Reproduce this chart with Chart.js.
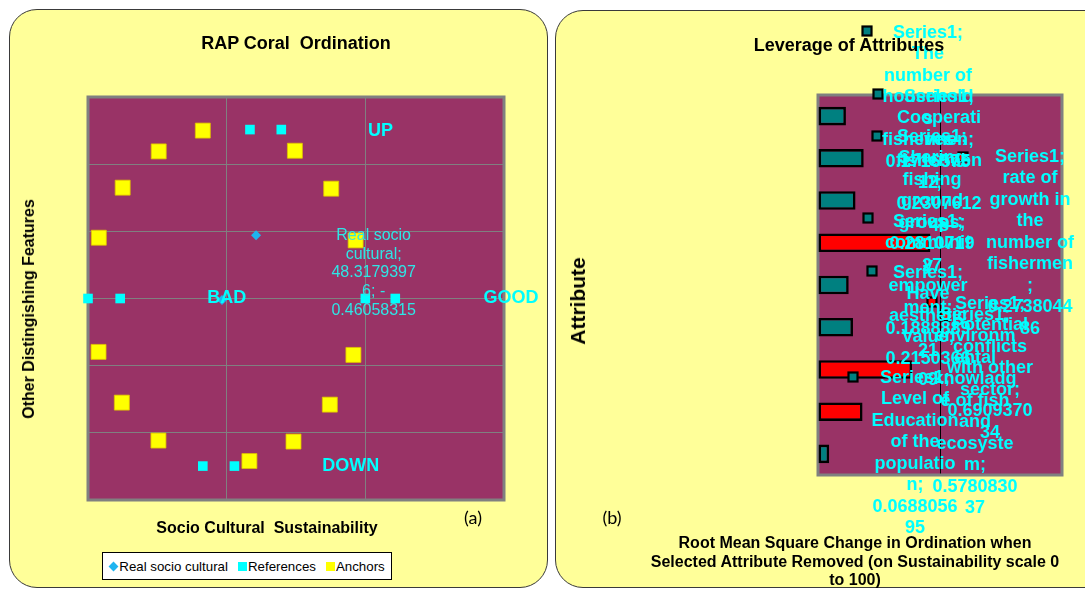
<!DOCTYPE html>
<html>
<head>
<meta charset="utf-8">
<title>RAP Coral Ordination and Leverage of Attributes</title>
<script src="https://cdn.jsdelivr.net/npm/chart.js@4.4.1/dist/chart.umd.min.js"></script>
<style>
  html, body { margin:0; padding:0; width:1085px; height:589px; overflow:hidden; background:#fff; }
  body { position:relative; font-family:'Liberation Sans', Arial, sans-serif; }
  .panel { position:absolute; background:#FFFF99; border:1px solid #3a3a3a; box-sizing:border-box; }
  #panelA { left:9px; top:9px; width:539px; height:579px; border-radius:28px; }
  #panelB { left:555px; top:10px; width:560px; height:578px; border-radius:28px; }
  canvas { position:absolute; top:0; }
  #chartA { left:0; }
  #chartB { left:550px; }
  .txt { position:absolute; transform:translate(-50%,-50%); white-space:nowrap; color:#000; }
  .bold { font-weight:bold; }
  .rot { transform:translate(-50%,-50%) rotate(-90deg); }
  .tag { font-family:Lato, 'Open Sans', sans-serif; font-size:18px; }
  #legendA { position:absolute; left:102px; top:552px; width:290px; height:28px; box-sizing:border-box;
             background:#fff; border:1px solid #000; display:flex; align-items:center; justify-content:center;
             font-size:13.3px; color:#000; }
  #legendA .li { display:inline-flex; align-items:center; margin:0 5px; }
  #legendA .mk { display:inline-block; width:9px; height:9px; margin-right:1px; }
  #legendA .mk.rectRot { width:7px; height:7px; transform:rotate(45deg); margin:0 2px 0 1px; }
</style>
</head>
<body>
<div class="panel" id="panelA"></div>
<div class="panel" id="panelB"></div>

<canvas id="chartA" width="550" height="589"></canvas>
<canvas id="chartB" width="535" height="589"></canvas>

<div class="txt bold" style="left:296px;top:43px;font-size:18px;">RAP Coral&nbsp; Ordination</div>
<div class="txt bold" style="left:267px;top:528px;font-size:16px;">Socio Cultural&nbsp; Sustainability</div>
<div class="txt bold rot" style="left:29px;top:309px;font-size:16px;">Other Distingishing Features</div>
<div class="txt tag" style="left:473px;top:517px;">(a)</div>
<div id="legendA"></div>

<div class="txt bold" style="left:849px;top:45px;font-size:18px;">Leverage of Attributes</div>
<div class="txt bold rot" style="left:578px;top:301px;font-size:21px;">Attribute</div>
<div class="txt bold" style="left:855px;top:562px;font-size:16px;line-height:18.5px;text-align:center;">Root Mean Square Change in Ordination when<br>Selected Attribute Removed (on Sustainability scale 0<br>to 100)</div>
<div class="txt tag" style="left:612px;top:517px;">(b)</div>

<script>
// ---------- ordination data (sustainability score, other distinguishing features) ----------
const realName = 'Real socio cultural';
const realX = [48.31793976, 60.6];
const realY = [-0.46058315, 18.8];

const refName = 'References';
const refX = [0, 11.6, 100, 110.8, 58.4, 69.7, 41.4, 52.8];
const refY = [0, 0, 0, 0, 50.3, 50.3, -49.9, -49.9];

const anchorName = 'Anchors';
const anchorX = [41.4, 25.5, 74.6, 12.5, 87.7, 3.9, 96.5, 3.8, 95.7, 12.2, 87.2, 25.4, 74.1, 58.2];
const anchorY = [50, 43.8, 44, 33, 32.7, 18.1, 17.3, -15.9, -16.8, -31, -31.6, -42.3, -42.6, -48.4];

// direction words shown inside the ordination plot
const compassWords = ['UP', 'BAD', 'GOOD', 'DOWN'];

// ---------- leverage data (top bar first) ----------
const seriesName = 'Series1';
const attributes = [
  'The number of households fishermen',
  'Sharing fishing ground groups',
  'Cooperatives fishermen',
  'Potential conflicts with other sector',
  'community empowerment',
  'Have aesthetic Value',
  'environmental knowladge of fish and ecosystem',
  'rate of growth in the number of fishermen',
  'Level of Education of the population'
];
const leverage = [0.171657512, 0.281071927, 0.230761248, 0.690937034, 0.188888921,
                  0.215036609, 0.578083037, 0.273804486, 0.068805695];

// ---------- styling / layout (not data) ----------
const PLOT_FILL = '#993366';
const GRID = '#808080';
const CYAN = '#00FFFF';
const TEAL = '#008080';
const RED = '#FF0000';
const highlighted = [false, false, false, true, false, false, true, true, false];

// where each direction word sits, in axis units
const compassAt = [[105.5, 50], [50, 0], [152.5, 0], [94.7, -50]];
// label of the real point: centre-x / first line, in axis units
const realLabelAt = [103, 18.8];

// leverage data labels: text centre (dx), first line (dy), key centre (kx, ky), wrap width (w),
// all in px from the plot's top-left corner
const labelLayout = [
  { dx: 110, dy: -62, kx: 49,  ky: -64, w: 93 },
  { dx: 114, dy: 42,  kx: 59,  ky: 41,  w: 90 },
  { dx: 121, dy: 2,   kx: 60,  ky: -1,  w: 89 },
  { dx: 172, dy: 209, kx: 114, ky: 207, w: 90 },
  { dx: 110, dy: 127, kx: 50,  ky: 123, w: 90 },
  { dx: 110, dy: 178, kx: 54,  ky: 176, w: 90 },
  { dx: 157, dy: 220, kx: 127, ky: 221, w: 88 },
  { dx: 212, dy: 62,  kx: 145, ky: 62,  w: 90 },
  { dx: 97,  dy: 283, kx: 35,  ky: 282, w: 89 }
];

// ---------- helpers ----------
// wraps text the way a spreadsheet data label does: on spaces, after hyphens, and inside over-long words
function wrapLabel(ctx, text, maxW) {
  const fits = s => ctx.measureText(s).width <= maxW;
  const pieces = [];
  text.split(' ').forEach((w, i) => w.split(/(?<=-)/).forEach((p, j) => pieces.push({ s: p, sp: i > 0 && j === 0 })));
  const lines = [];
  let cur = '';
  for (const p of pieces) {
    if (cur) {
      const cand = cur + (p.sp ? ' ' : '') + p.s;
      if (fits(cand)) { cur = cand; continue; }
      lines.push(cur); cur = '';
    }
    let s = p.s;
    while (!fits(s)) {
      let k = s.length - 1;
      while (k > 1 && !fits(s.slice(0, k))) k--;
      lines.push(s.slice(0, k)); s = s.slice(k);
    }
    cur = s;
  }
  if (cur) lines.push(cur);
  return lines;
}

function drawLines(ctx, lines, cx, y, lh) {
  lines.forEach((ln, i) => ctx.fillText(ln, cx, y + i * lh));
}

// plot background and grey frame
const plotFrame = {
  id: 'plotFrame',
  beforeDraw(chart) {
    const { ctx, chartArea: a } = chart;
    ctx.save();
    ctx.fillStyle = PLOT_FILL;
    ctx.fillRect(a.left, a.top, a.width, a.height);
    ctx.restore();
  },
  beforeDatasetsDraw(chart) {
    const { ctx, chartArea: a } = chart;
    ctx.save();
    ctx.strokeStyle = GRID;
    ctx.lineWidth = 3;
    ctx.strokeRect(a.left, a.top, a.width, a.height);
    ctx.restore();
  }
};

// ---------- chart (a): ordination ----------
const ordinationText = {
  id: 'ordinationText',
  afterDatasetsDraw(chart) {
    const { ctx, scales: { x, y } } = chart;
    ctx.save();
    ctx.fillStyle = CYAN;
    ctx.textAlign = 'center';
    ctx.textBaseline = 'middle';
    ctx.font = "bold 18px 'Liberation Sans', Arial, sans-serif";
    compassWords.forEach((w, i) => {
      ctx.fillText(w, x.getPixelForValue(compassAt[i][0]), y.getPixelForValue(compassAt[i][1]));
    });
    ctx.font = "16px 'Liberation Sans', Arial, sans-serif";
    ctx.fillStyle = '#2EE6E6';
    const txt = realName + '; ' + realX[0] + '; ' + realY[0];
    const lines = wrapLabel(ctx, txt, 90);
    drawLines(ctx, lines, x.getPixelForValue(realLabelAt[0]), y.getPixelForValue(realLabelAt[1]), 18.8);
    ctx.restore();
  }
};

const toPoints = (xs, ys) => xs.map((v, i) => ({ x: v, y: ys[i] }));

const chartA = new Chart(document.getElementById('chartA'), {
  type: 'scatter',
  data: {
    datasets: [
      { label: realName, data: toPoints(realX, realY), pointStyle: 'rectRot', pointRadius: 5,
        backgroundColor: '#1EB4F0', borderColor: '#1EB4F0', borderWidth: 0, clip: false },
      { label: refName, data: toPoints(refX, refY), pointStyle: 'rect', pointRadius: 6.8,
        backgroundColor: CYAN, borderColor: CYAN, borderWidth: 0, clip: false },
      { label: anchorName, data: toPoints(anchorX, anchorY), pointStyle: 'rect', pointRadius: 10.6,
        backgroundColor: '#FFFF00', borderColor: '#E0C000', borderWidth: 0.8, clip: false }
    ]
  },
  options: {
    responsive: false,
    animation: false,
    events: [],
    layout: { padding: { left: 88, top: 97, right: 46, bottom: 89 } },
    plugins: { legend: { display: false }, tooltip: { enabled: false }, title: { display: false } },
    scales: {
      x: { type: 'linear', min: 0, max: 150, ticks: { display: false, stepSize: 50 },
           grid: { color: GRID, lineWidth: 1, drawTicks: false }, border: { display: false } },
      y: { type: 'linear', min: -60, max: 60, ticks: { display: false, stepSize: 20 },
           grid: { color: GRID, lineWidth: 1, drawTicks: false }, border: { display: false } }
    }
  },
  plugins: [plotFrame, ordinationText]
});

// legend (a) built from the chart's own datasets
(function buildLegend() {
  const box = document.getElementById('legendA');
  chartA.data.datasets.forEach(ds => {
    const item = document.createElement('span');
    item.className = 'li';
    const mk = document.createElement('span');
    mk.className = 'mk ' + ds.pointStyle;
    mk.style.background = ds.backgroundColor;
    item.appendChild(mk);
    item.appendChild(document.createTextNode(ds.label));
    box.appendChild(item);
  });
})();

// ---------- chart (b): leverage of attributes ----------
const leverageLabels = {
  id: 'leverageLabels',
  afterDatasetsDraw(chart) {
    const { ctx, chartArea: a } = chart;
    const meta = chart.getDatasetMeta(0);
    const fills = chart.data.datasets[0].backgroundColor;
    ctx.save();
    ctx.font = "bold 18px 'Liberation Sans', Arial, sans-serif";
    ctx.textAlign = 'center';
    ctx.textBaseline = 'middle';
    meta.data.forEach((bar, i) => {
      const L = labelLayout[i];
      // legend key of the label
      const kx = a.left + L.kx, ky = a.top + L.ky;
      ctx.fillStyle = fills[i];
      ctx.fillRect(kx - 4.5, ky - 4.5, 9, 9);
      ctx.strokeStyle = '#000';
      ctx.lineWidth = 2.2;
      ctx.strokeRect(kx - 4.5, ky - 4.5, 9, 9);
    });
    ctx.fillStyle = CYAN;
    meta.data.forEach((bar, i) => {
      const L = labelLayout[i];
      const txt = seriesName + '; ' + chart.data.labels[i] + '; ' + leverage[i];
      drawLines(ctx, wrapLabel(ctx, txt, L.w), a.left + L.dx, a.top + L.dy, 21.5);
    });
    ctx.restore();
  }
};

const chartB = new Chart(document.getElementById('chartB'), {
  type: 'bar',
  data: {
    labels: attributes,
    datasets: [{
      label: seriesName,
      data: leverage,
      backgroundColor: highlighted.map(h => h ? RED : TEAL),
      borderColor: '#000',
      borderWidth: 2.6,
      borderSkipped: false,
      barPercentage: 0.44,
      categoryPercentage: 1
    }]
  },
  options: {
    indexAxis: 'y',
    responsive: false,
    animation: false,
    events: [],
    layout: { padding: { left: 268, top: 95, right: 23, bottom: 114 } },
    plugins: { legend: { display: false }, tooltip: { enabled: false }, title: { display: false } },
    scales: {
      x: { type: 'linear', min: 0, max: 1.5, ticks: { display: false, stepSize: 0.75 },
           grid: { color: c => (c.tick && Math.abs(c.tick.value - 0.75) < 1e-9) ? '#000' : 'rgba(0,0,0,0)',
                   lineWidth: 1, drawTicks: false },
           border: { display: false } },
      y: { type: 'category', ticks: { display: false }, grid: { display: false, drawTicks: false },
           border: { display: false } }
    }
  },
  plugins: [plotFrame, leverageLabels]
});
</script>
</body>
</html>
